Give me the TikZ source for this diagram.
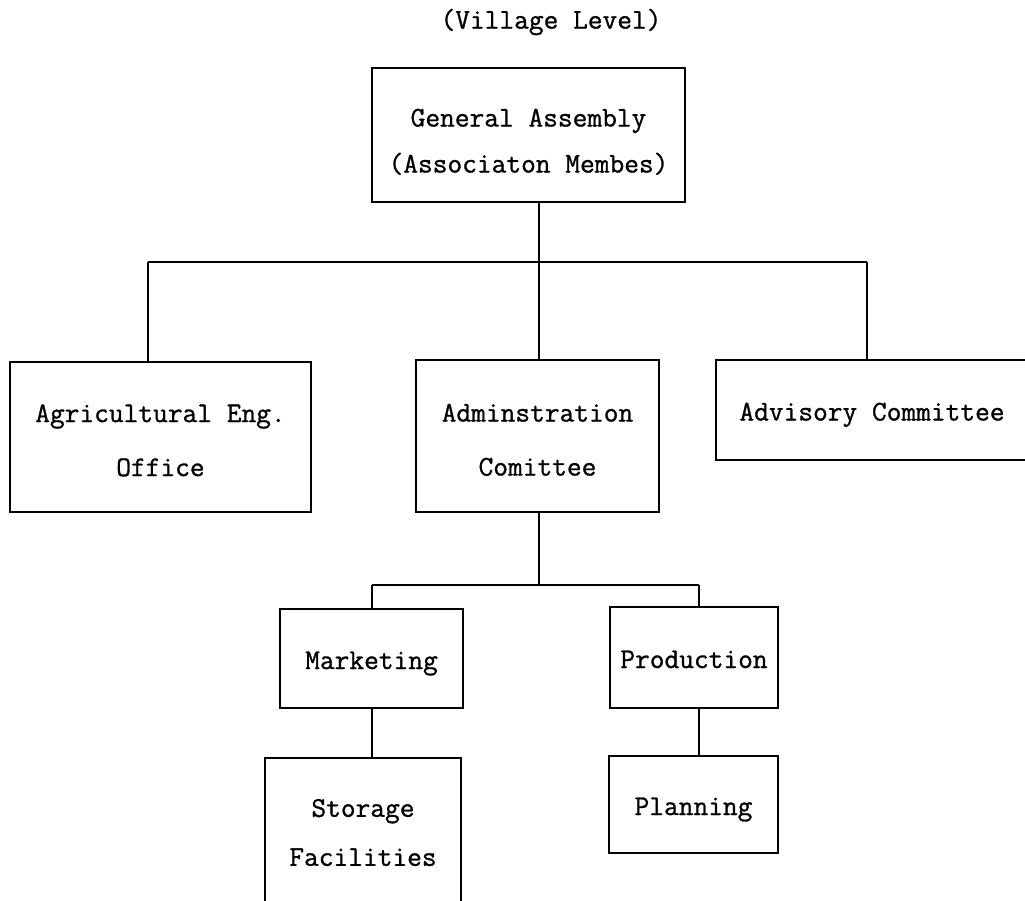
\documentclass[tikz,border=0pt]{standalone}
\usepackage{fontspec}
\newfontfamily\tw[FakeBold=1]{Latin Modern Mono}
% invisible strut that deepens the first line of a label
\newcommand{\topstrut}[1]{\rule{0pt}{#1}}
\begin{document}
\begin{tikzpicture}[x=1pt,y=-1pt,
  box/.style={draw,line width=2pt,rectangle,inner sep=0pt,align=center,
    font=\tw\fontsize{28.6}{52}\selectfont},
  single/.style={text height=27pt,text depth=6pt},
  lines/.style={font=\tw\fontsize{28.6}{#1}\selectfont},
  link/.style={line width=2pt}]
\useasboundingbox (0,0) rectangle (1025,901);
\fill[white] (0,0) rectangle (1025,901);
\clip (0,0) rectangle (1025,901);

% heading
\node[font=\tw\fontsize{28.6}{34}\selectfont] (title) at (551,22) {(Village Level)};

% boxes
\node[box,lines=46,minimum width=313pt,minimum height=134pt] (ga) at (528.5,135)
  {\topstrut{31.5pt}General Assembly\\(Associaton Membes)};
\node[box,lines=54,minimum width=301pt,minimum height=150pt] (agri) at (160.5,437)
  {\topstrut{24.5pt}Agricultural Eng.\\Office};
\node[box,lines=54,minimum width=243pt,minimum height=152pt] (admin) at (537.5,436)
  {\topstrut{25.5pt}Adminstration\\Comittee};
\node[box,single,minimum width=312pt,minimum height=100pt] (adv) at (872,410)
  {Advisory Committee};
\node[box,single,minimum width=183pt,minimum height=99pt] (mkt) at (371.5,658.5)
  {Marketing};
\node[box,single,minimum width=168pt,minimum height=101pt] (prod) at (694,657.5)
  {Production};
\node[box,lines=49,minimum width=196pt,minimum height=149pt] (stor) at (363,832.5)
  {Storage\\Facilities};
\node[box,single,minimum width=169pt,minimum height=97pt] (plan) at (693.5,804.5)
  {Planning};

% junction points of the tree
\coordinate (j1) at (539,262);
\coordinate (jl) at (148,262);
\coordinate (jr) at (867,262);
\coordinate (j2) at (539,585);
\coordinate (m) at (372,585);
\coordinate (p) at (699,585);

% connectors
\draw[link] (ga.south -| j1) -- (j1);
\draw[link] (jl) -- (jr);
\draw[link] (jl) -- (agri.north -| jl);
\draw[link] (j1) -- (admin.north -| j1);
\draw[link] (jr) -- (adv.north -| jr);
\draw[link] (admin.south -| j1) -- (j2);
\draw[link] (m) -- (p);
\draw[link] (m) -- (mkt.north -| m);
\draw[link] (p) -- (prod.north -| p);
\draw[link] (mkt.south -| m) -- (stor.north -| m);
\draw[link] (prod.south -| p) -- (plan.north -| p);
\end{tikzpicture}
\end{document}
